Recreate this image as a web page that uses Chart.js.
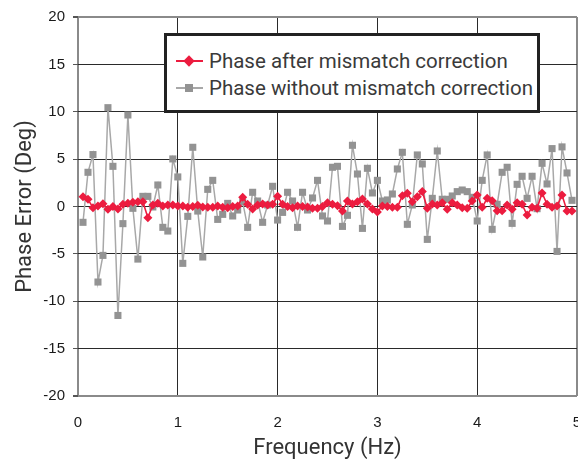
<!DOCTYPE html>
<html>
<head>
<meta charset="utf-8">
<script src="https://cdn.jsdelivr.net/npm/chart.js@4"></script>
<style>
    html, body { margin: 0; padding: 0; background: #fff; }
    #wrap { position: relative; width: 578px; height: 459px; }
    #legendBox {
        position: absolute; left: 164px; top: 33px;
        width: 370px; height: 74px;
        border: 3px solid #222; background: #fff;
    }
    .row {
        position: absolute; left: 176px; height: 24px; line-height: 24px;
        font-family: Roboto, sans-serif; font-size: 20.5px; color: #3a3a3a;
        white-space: nowrap;
    }
    .mk { position: relative; display: inline-block; width: 27px; height: 24px; vertical-align: top; margin-right: 6px; }
    .ln { position: absolute; left: 0; right: 0; top: 11px; height: 2px; }
    .dia { position: absolute; left: 9px; top: 8px; width: 8px; height: 8px; transform: rotate(45deg); }
    .sq { position: absolute; left: 9px; top: 8px; width: 8px; height: 8px; }
</style>
</head>
<body>
<div id="wrap">
    <canvas id="phaseChart" width="578" height="459"></canvas>
    <div id="legendBox"></div>
    <div class="row" style="top:49px"><span class="mk"><span class="ln" style="background:#ec1c3f"></span><span class="dia" style="background:#ec1c3f"></span></span>Phase after mismatch correction</div>
    <div class="row" style="top:76px"><span class="mk"><span class="ln" style="background:#a8a8a8"></span><span class="sq" style="background:#939393"></span></span>Phase without mismatch correction</div>
</div>
<script>
// frequency points (Hz)
var freqHz = [
    0.05, 0.10, 0.15, 0.20, 0.25, 0.30, 0.35, 0.40, 0.45, 0.50,
    0.55, 0.60, 0.65, 0.70, 0.75, 0.80, 0.85, 0.90, 0.95, 1.00,
    1.05, 1.10, 1.15, 1.20, 1.25, 1.30, 1.35, 1.40, 1.45, 1.50,
    1.55, 1.60, 1.65, 1.70, 1.75, 1.80, 1.85, 1.90, 1.95, 2.00,
    2.05, 2.10, 2.15, 2.20, 2.25, 2.30, 2.35, 2.40, 2.45, 2.50,
    2.55, 2.60, 2.65, 2.70, 2.75, 2.80, 2.85, 2.90, 2.95, 3.00,
    3.05, 3.10, 3.15, 3.20, 3.25, 3.30, 3.35, 3.40, 3.45, 3.50,
    3.55, 3.60, 3.65, 3.70, 3.75, 3.80, 3.85, 3.90, 3.95, 4.00,
    4.05, 4.10, 4.15, 4.20, 4.25, 4.30, 4.35, 4.40, 4.45, 4.50,
    4.55, 4.60, 4.65, 4.70, 4.75, 4.80, 4.85, 4.90, 4.95
];
// phase error after correction (deg)
var phaseCorrected = [
    1.04, 0.76, -0.12, 0.05, 0.30, -0.30, 0.00, -0.26, 0.23, 0.33,
    0.44, 0.51, 0.51, -1.18, 0.16, 0.33, 0.05, 0.16, 0.16, 0.05,
    0.05, -0.09, 0.00, 0.12, -0.05, -0.09, -0.09, 0.05, -0.09, -0.12,
    0.00, 0.05, 0.97, 0.23, -0.26, 0.16, 0.26, 0.16, 0.23, 1.07,
    0.23, 0.00, -0.12, 0.05, 0.00, -0.05, -0.19, -0.19, 0.00, 0.40,
    0.23, 0.09, -0.48, 0.58, 0.26, 0.51, 0.79, 0.26, -0.26, -0.58,
    0.05, 0.00, -0.09, -0.09, 1.14, 1.39, 0.51, 1.04, 1.57, -0.19,
    0.26, 0.16, 0.40, -0.30, 0.40, 0.16, -0.12, -0.19, 0.58, 1.21,
    -0.09, 0.86, 0.62, -0.44, -0.44, 0.16, -0.30, 0.40, 0.23, -0.90,
    -0.09, -0.19, 1.43, 0.23, -0.09, 0.05, 1.21, -0.48, -0.48
];
// phase error without correction (deg)
var phaseUncorrected = [
    -1.67, 3.61, 5.48, -7.97, -5.16, 10.43, 4.24, -11.50, -1.81, 9.66,
    -0.19, -5.55, 1.07, 1.07, -0.05, 2.27, -2.20, -2.59, 5.02, 3.12,
    -6.00, -1.04, 6.25, -0.48, -5.33, 1.81, 2.76, -1.36, -0.83, 0.33,
    -1.00, -0.37, 0.48, -2.20, 1.50, 0.58, -1.67, 0.16, 2.13, -1.43,
    -0.62, 1.50, 0.58, -2.20, 1.50, -0.37, 0.90, 2.76, -1.00, -1.53,
    4.14, 4.24, -2.10, -0.93, 6.46, 3.43, -2.31, 4.03, 1.43, 2.76,
    0.58, 0.69, 1.32, 3.96, 5.72, -1.88, 0.16, 5.44, 4.49, -3.47,
    0.86, 5.86, 0.76, 0.76, 1.11, 1.57, 1.74, 1.57, 0.97, -1.53,
    2.76, 5.44, -2.41, 0.23, 3.61, 4.14, -1.78, 2.34, 3.19, 0.86,
    3.19, -0.23, 4.56, 2.38, 6.11, -4.74, 6.29, 3.54, 0.65
];
var seriesNames = ['Phase after mismatch correction', 'Phase without mismatch correction'];
var xTickLabels = ['0', '1', '2', '3', '4', '5'];
var yTickLabels = ['-20', '-15', '-10', '-5', '0', '5', '10', '15', '20'];

var toPoints = function (ys) {
    return ys.map(function (y, i) { return { x: freqHz[i], y: y }; });
};

var edgeColor = '#8a8a8a';
var gridColor = '#2a2a2a';

var ctx = document.getElementById('phaseChart').getContext('2d');
new Chart(ctx, {
    type: 'line',
    data: {
        datasets: [
            {
                label: seriesNames[0],
                data: toPoints(phaseCorrected),
                borderColor: '#ec1c3f',
                backgroundColor: '#ec1c3f',
                borderWidth: 1.6,
                pointStyle: 'rectRot',
                pointRadius: 4.5,
                pointBorderWidth: 0,
                pointBackgroundColor: '#ec1c3f',
                tension: 0,
                order: 0
            },
            {
                label: seriesNames[1],
                data: toPoints(phaseUncorrected),
                borderColor: '#a8a8a8',
                backgroundColor: '#939393',
                borderWidth: 1.5,
                pointStyle: 'rect',
                pointRadius: 5,
                pointBorderWidth: 0,
                pointBackgroundColor: '#939393',
                tension: 0,
                order: 1
            }
        ]
    },
    options: {
        responsive: false,
        animation: false,
        devicePixelRatio: 1,
        layout: { autoPadding: false, padding: { top: 17, right: 1, bottom: 0, left: 0 } },
        plugins: {
            legend: { display: false },
            tooltip: { enabled: false }
        },
        scales: {
            x: {
                type: 'linear',
                min: 0,
                max: 5,
                ticks: {
                    stepSize: 1,
                    padding: 18,
                    color: '#1a1a1a',
                    font: { family: 'Liberation Sans, Arial, sans-serif', size: 15 },
                    callback: function (v) { return xTickLabels[Math.round(v)]; }
                },
                grid: {
                    drawTicks: false,
                    color: function (c) { return (c.tick && (c.tick.value === 0 || c.tick.value === 5)) ? edgeColor : gridColor; },
                    lineWidth: function (c) { return (c.tick && (c.tick.value === 0 || c.tick.value === 5)) ? 2 : 1; }
                },
                border: { display: false },
                title: {
                    display: true,
                    text: 'Frequency (Hz)',
                    color: '#333',
                    font: { family: 'Roboto, sans-serif', size: 22, lineHeight: 1 },
                    padding: { top: 0, bottom: 0 }
                },
                afterFit: function (s) { s.height = 63; s.paddingLeft = 0; s.paddingRight = 0; }
            },
            y: {
                min: -20,
                max: 20,
                ticks: {
                    stepSize: 5,
                    padding: 8,
                    color: '#1a1a1a',
                    font: { family: 'Liberation Sans, Arial, sans-serif', size: 15 },
                    callback: function (v) { return yTickLabels[Math.round((v + 20) / 5)]; }
                },
                grid: {
                    tickLength: 5,
                    tickColor: '#555',
                    color: function (c) { return (c.tick && Math.abs(c.tick.value) === 20) ? edgeColor : gridColor; },
                    lineWidth: function (c) { return (c.tick && Math.abs(c.tick.value) === 20) ? 2 : 1; }
                },
                border: { display: false },
                title: {
                    display: true,
                    text: 'Phase Error (Deg)',
                    color: '#333',
                    font: { family: 'Roboto, sans-serif', size: 22, lineHeight: 1 },
                    padding: { top: 14, bottom: 0 }
                },
                afterFit: function (s) { s.width = 78; s.paddingTop = 0; s.paddingBottom = 0; }
            }
        }
    }
});
</script>
</body>
</html>
